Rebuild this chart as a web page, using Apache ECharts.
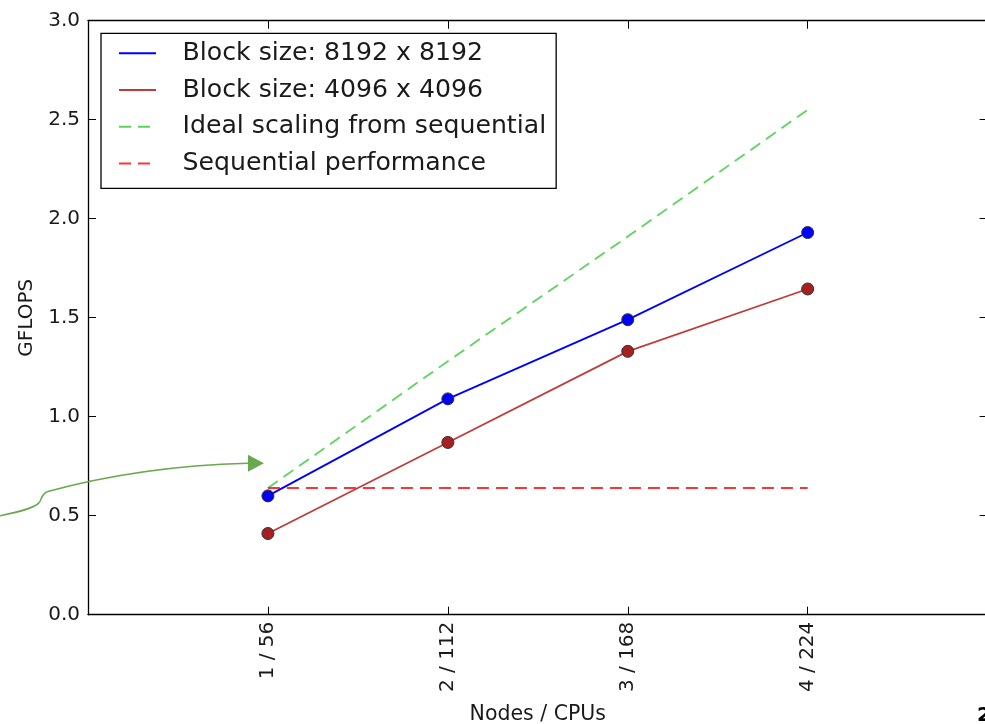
<!DOCTYPE html>
<html><head><meta charset="utf-8">
<script src="https://cdn.jsdelivr.net/npm/echarts@6/dist/echarts.min.js"></script>
<style>html,body{margin:0;padding:0;background:#fff;overflow:hidden}#c{width:985px;height:724px}</style>
</head><body><div id="c"></div>
<script>
// ---- data ----
const categories = ['1 / 56', '2 / 112', '3 / 168', '4 / 224'];
const nodes = [1, 2, 3, 4];
const block8192 = [0.60, 1.09, 1.49, 1.93];
const block4096 = [0.41, 0.87, 1.33, 1.645];
const idealScaling = [0.64, 1.28, 1.91, 2.55];
const sequential = [0.64, 0.64, 0.64, 0.64];
const seriesNames = ['Block size: 8192 x 8192', 'Block size: 4096 x 4096', 'Ideal scaling from sequential', 'Sequential performance'];
const xMin = 0, xMax = 5;
const yMin = 0, yMax = 3, yStep = 0.5;
// annotation arrow anchor points (data coordinates)
const arrowTail = [-0.49, 0.50];
const arrowTip = [0.978, 0.765];

const FONT = 'DejaVu Sans';
const TXT = '#1a1a1a';
const pairs = (ys) => nodes.map((x, i) => [x, ys[i]]);

const chart = echarts.init(document.getElementById('c'), null, { renderer: 'canvas' });

const tickStyle = { color: '#000', width: 1 };
const baseX = {
  type: 'value', min: xMin, max: xMax, interval: 1,
  splitLine: { show: false },
  axisLine: { show: true, onZero: false, lineStyle: { color: '#000', width: 1.3 } },
  axisTick: { show: true, inside: true, length: 8, customValues: nodes, lineStyle: tickStyle }
};
const baseY = {
  type: 'value', min: yMin, max: yMax, interval: yStep,
  splitLine: { show: false },
  axisLine: { show: true, onZero: false, lineStyle: { color: '#000', width: 1.3 } },
  axisTick: { show: true, inside: true, length: 8, lineStyle: tickStyle }
};

const option = {
  animation: false,
  backgroundColor: '#fff',
  grid: { left: 88, top: 20.7, width: 899.6, height: 594, show: false, containLabel: false, outerBoundsMode: 'none' },
  xAxis: [
    Object.assign({}, baseX, {
      position: 'bottom',
      name: 'Nodes / CPUs', nameLocation: 'middle', nameGap: 89,
      nameTextStyle: { fontFamily: FONT, fontSize: 20.5, color: TXT },
      axisLabel: {
        rotate: 90, margin: 7, fontFamily: FONT, fontSize: 20, color: TXT,
        customValues: nodes,
        formatter: (v) => { const i = nodes.indexOf(Math.round(v)); return i >= 0 ? categories[i] : ''; }
      }
    }),
    Object.assign({}, baseX, { position: 'top', axisLabel: { show: false } })
  ],
  yAxis: [
    Object.assign({}, baseY, {
      position: 'left',
      name: 'GFLOPS', nameLocation: 'middle', nameGap: 42, nameRotate: 90,
      nameTextStyle: { fontFamily: FONT, fontSize: 20, color: TXT },
      axisLabel: { margin: 8, fontFamily: FONT, fontSize: 20, color: TXT, formatter: (v) => v.toFixed(1) }
    }),
    Object.assign({}, baseY, {
      position: 'right', axisLabel: { show: false },
      axisLine: { show: true, onZero: false, lineStyle: { color: '#000', width: 1.3 } },
      axisTick: { show: true, inside: true, length: 8, lineStyle: tickStyle }
    })
  ],
  legend: {
    orient: 'vertical', left: 101, top: 33.3,
    padding: [7.5, 10, 12.4, 17],
    itemWidth: 37, itemHeight: 25, itemGap: 11.7,
    backgroundColor: '#fff', borderColor: '#000', borderWidth: 1.3, borderRadius: 0,
    itemStyle: { opacity: 0 },
    textStyle: { fontFamily: FONT, fontSize: 25.2, color: TXT, lineHeight: 25, padding: [0, 0, 0, 21.5] },
    data: seriesNames,
    selectedMode: false
  },
  series: [
    {
      name: seriesNames[0], type: 'line', data: pairs(block8192), z: 4,
      symbol: 'circle', symbolSize: 12,
      lineStyle: { color: '#0000ff', width: 1.8 },
      itemStyle: { color: '#0000ff', borderColor: '#333', borderWidth: 1 }
    },
    {
      name: seriesNames[1], type: 'line', data: pairs(block4096), z: 4,
      symbol: 'circle', symbolSize: 12,
      lineStyle: { color: '#c23b3b', width: 1.8 },
      itemStyle: { color: '#a81f1f', borderColor: '#333', borderWidth: 1 }
    },
    {
      name: seriesNames[2], type: 'line', data: pairs(idealScaling), z: 3,
      symbol: 'none', showSymbol: false,
      lineStyle: { color: '#5ad75a', width: 1.8, type: [12, 7] },
      itemStyle: { color: '#5ad75a' }
    },
    {
      name: seriesNames[3], type: 'line', data: pairs(sequential), z: 3,
      symbol: 'none', showSymbol: false,
      lineStyle: { color: '#ff3333', width: 1.8, type: [12, 7] },
      itemStyle: { color: '#ff3333' }
    }
  ]
};
chart.setOption(option);

// annotation arrow anchored through the chart's coordinate system
const t = chart.convertToPixel({ gridIndex: 0 }, arrowTail);
const h = chart.convertToPixel({ gridIndex: 0 }, arrowTip);
const bx = h[0] - 16; // arrow head base
const ARROW = '#6aa84f';
const curveStyle = { fill: null, stroke: ARROW, lineWidth: 1.5 };
chart.setOption({
  graphic: [
    { type: 'bezierCurve', silent: true, z: 10, style: curveStyle,
      shape: { x1: t[0], y1: t[1], cpx1: t[0] + 20, cpy1: t[1] - 4, cpx2: t[0] + 37, cpy2: t[1] - 8, x2: t[0] + 40, y2: t[1] - 14 } },
    { type: 'bezierCurve', silent: true, z: 10, style: curveStyle,
      shape: { x1: t[0] + 40, y1: t[1] - 14, cpx1: t[0] + 42, cpy1: t[1] - 18, cpx2: t[0] + 42, cpy2: t[1] - 21, x2: t[0] + 47, y2: t[1] - 24 } },
    { type: 'bezierCurve', silent: true, z: 10, style: curveStyle,
      shape: { x1: t[0] + 47, y1: t[1] - 24, cpx1: t[0] + 100, cpy1: h[1] + 14, cpx2: t[0] + 170, cpy2: h[1] + 2, x2: bx, y2: h[1] } },
    { type: 'polygon', silent: true, z: 10, style: { fill: ARROW },
      shape: { points: [[bx, h[1] - 8.5], [h[0], h[1]], [bx, h[1] + 8.5]] } },
    { type: 'text', left: 977, top: 706, silent: true, z: 10,
      style: { text: '2', font: 'bold 20px "DejaVu Sans"', fill: '#000' } }
  ]
});
</script>
</body></html>
